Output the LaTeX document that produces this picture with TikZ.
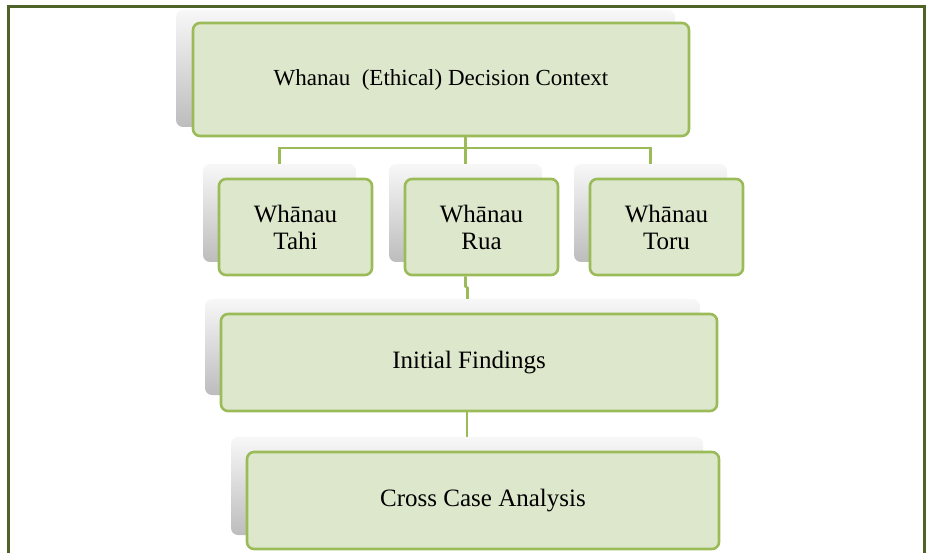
\documentclass[tikz,border=0pt]{standalone}
\usepackage{fontspec}
\setmainfont{Liberation Serif}
\definecolor{frameC}{HTML}{4F6228}
\definecolor{boxC}{HTML}{9BBB59}
\definecolor{fillC}{HTML}{DDE7CB}
\begin{document}
\begin{tikzpicture}[x=1pt,y=-1pt,
  shadowbox/.style={rounded corners=7pt, top color=black!3, bottom color=black!26, draw=none},
  greenbox/.style={rounded corners=7pt, draw=boxC, line width=2.6pt, fill=fillC, align=center,
     font=\fontsize{25}{27}\selectfont, inner sep=0pt},
  link/.style={draw=boxC, line width=2.6pt}]
\useasboundingbox (0,0) rectangle (926,553);
\draw[frameC, line width=3pt] (8.5,553) -- (8.5,6.5) -- (924.5,6.5) -- (924.5,553);
% shadows
\node[shadowbox, minimum width=499pt, minimum height=117pt] (topS) at (425.5,68.5) {};
\node[shadowbox, minimum width=153pt, minimum height=98pt] (tahiS) at (279.5,213) {};
\node[shadowbox, minimum width=153pt, minimum height=98pt] (ruaS) at (465.5,213) {};
\node[shadowbox, minimum width=153pt, minimum height=98pt] (toruS) at (650.5,213) {};
\node[shadowbox, minimum width=495pt, minimum height=96pt] (initS) at (452.5,347) {};
\node[shadowbox, minimum width=472pt, minimum height=98pt] (crossS) at (467,486) {};
% boxes
\node[greenbox, minimum width=496pt, minimum height=113pt, font=\fontsize{23}{26}\selectfont] (top) at (441,79.5) {Whanau~~(Ethical) Decision Context};
\node[greenbox, minimum width=153pt, minimum height=96pt] (tahi) at (295.5,227) {Whānau\\Tahi};
\node[greenbox, minimum width=153pt, minimum height=96pt] (rua) at (481.5,227) {Whānau\\Rua};
\node[greenbox, minimum width=153pt, minimum height=96pt] (toru) at (666.5,227) {Whānau\\Toru};
\node[greenbox, minimum width=496pt, minimum height=97pt] (init) at (469,362.5) {Initial Findings};
\node[greenbox, minimum width=472pt, minimum height=97pt] (cross) at (483,500.5) {Cross Case Analysis};
% connectors
\coordinate (bar) at (465.5,148);
\coordinate (jog) at (467.5,288);
\draw[link] (top.south -| ruaS) -- (ruaS.north);
\draw[link] (tahiS.north) |- (bar) -| (toruS.north);
\draw[link] (rua.south -| ruaS) -- ++(0,10) -- (jog) -- (jog |- initS.north);
\draw[link] (init.south -| crossS) -- (crossS.north);
\end{tikzpicture}
\end{document}
